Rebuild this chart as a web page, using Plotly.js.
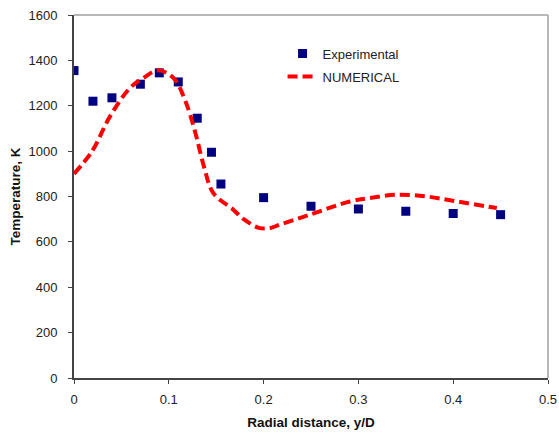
<!DOCTYPE html>
<html><head><meta charset="utf-8">
<script src="https://cdn.plot.ly/plotly-3.0.1.min.js"></script>
<style>body{margin:0;background:#fff}#c{width:559px;height:434px}</style>
</head><body><div id="c"></div>
<script>
var expX = [0, 0.02, 0.04, 0.07, 0.09, 0.11, 0.13, 0.145, 0.155, 0.2, 0.25, 0.3, 0.35, 0.4, 0.45];
var expY = [1355, 1220, 1235, 1295, 1345, 1305, 1145, 995, 855, 795, 757, 745, 735, 725, 720];
var numX = [0, 0.019, 0.038, 0.059, 0.073, 0.089, 0.105, 0.117, 0.128, 0.137, 0.147, 0.168, 0.179, 0.195, 0.207, 0.217, 0.249, 0.291, 0.312, 0.34, 0.372, 0.404, 0.446];
var numY = [900, 999, 1153, 1278, 1322, 1356, 1322, 1226, 1081, 933, 815, 742, 700, 662, 661, 676, 720, 778, 793, 808, 800, 778, 749];
var xTicks = [0, 0.1, 0.2, 0.3, 0.4, 0.5];
var yTicks = [0, 200, 400, 600, 800, 1000, 1200, 1400, 1600];

var FAM = 'Liberation Sans, Arial, sans-serif';
var traces = [
  {x: expX, y: expY, type: 'scatter', mode: 'markers', name: 'Experimental', legendgroup: 'a',
   marker: {symbol: 'square', size: 9, color: '#000080'}},
  {x: numX, y: numY, type: 'scatter', mode: 'lines', name: 'NUMERICAL', legendgroup: 'b',
   line: {color: '#ff0000', width: 4, dash: '10px,5px', shape: 'spline', smoothing: 1}}
];
var layout = {
  width: 559, height: 434,
  margin: {l: 74, r: 11, t: 15, b: 56},
  paper_bgcolor: '#fff', plot_bgcolor: '#fff',
  font: {family: FAM, size: 13, color: '#222'},
  showlegend: true,
  legend: {x: 0.44, y: 0.935, xanchor: 'left', yanchor: 'top', bgcolor: 'rgba(0,0,0,0)',
           traceorder: 'grouped', tracegroupgap: 3,
           font: {family: FAM, size: 13, color: '#222'}},
  xaxis: {range: [0, 0.5], tickvals: xTicks, ticktext: xTicks.map(String), showgrid: false, zeroline: false,
          showline: true, linecolor: '#444', linewidth: 2, ticks: 'outside', ticklen: 4, tickcolor: '#444',
          ticklabelstandoff: 4,
          title: {text: '<b>Radial distance, y/D</b>', font: {family: FAM, size: 13.5, color: '#111'}, standoff: 12}},
  yaxis: {range: [0, 1600], tickvals: yTicks, showgrid: false, zeroline: false,
          showline: true, linecolor: '#444', linewidth: 2, ticks: 'outside', ticklen: 4, tickcolor: '#444',
          ticklabelstandoff: 8,
          title: {text: '<b>Temperature, K</b>', font: {family: FAM, size: 13.5, color: '#111'}, standoff: 5}},
  shapes: [
    {type: 'line', xref: 'paper', yref: 'paper', x0: 0, x1: 1, y0: 1, y1: 1, line: {color: '#a0a0a0', width: 1.5}},
    {type: 'line', xref: 'paper', yref: 'paper', x0: 1, x1: 1, y0: 0, y1: 1, line: {color: '#a0a0a0', width: 1.5}}
  ]
};
Plotly.newPlot('c', traces, layout, {displayModeBar: false, staticPlot: true});
</script></body></html>
